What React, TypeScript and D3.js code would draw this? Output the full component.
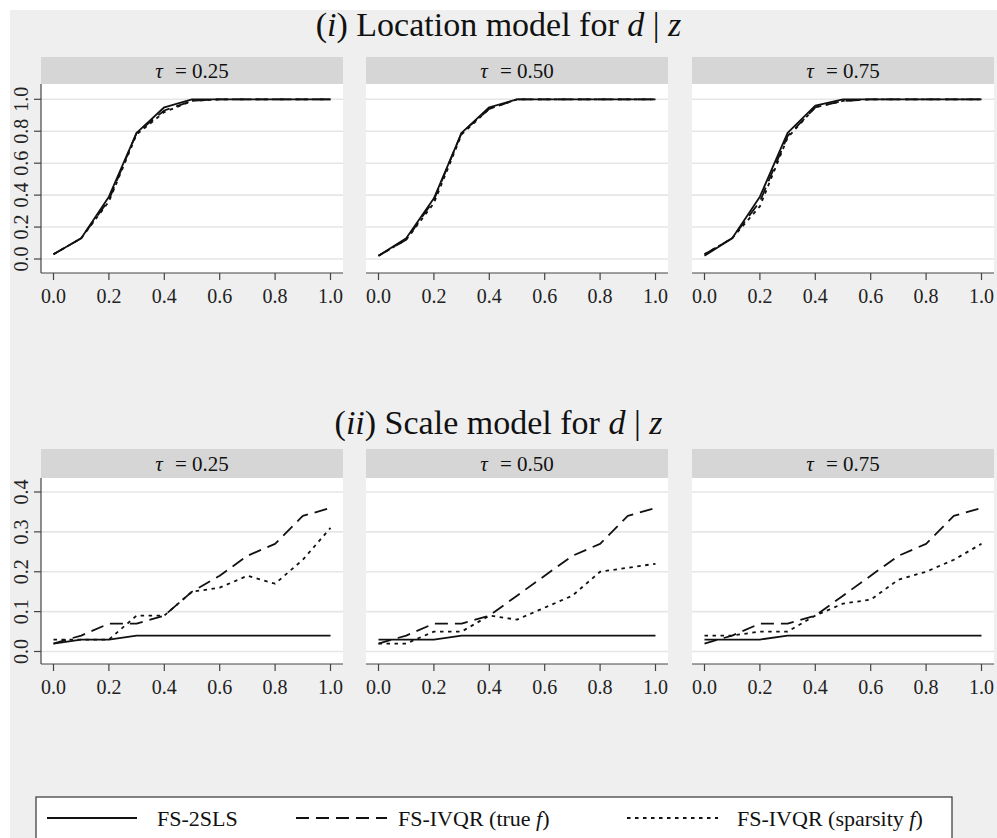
import React from "react";
import * as d3 from "d3";

// ---------- data ----------
const xGrid = [0, 0.1, 0.2, 0.3, 0.4, 0.5, 0.6, 0.7, 0.8, 0.9, 1.0];
const xTicks = [0, 0.2, 0.4, 0.6, 0.8, 1.0];
const tauLabels = ["0.25", "0.50", "0.75"];
const seriesNames = ["FS-2SLS", "FS-IVQR (true f)", "FS-IVQR (sparsity f)"];

const locYTicks = [0, 0.2, 0.4, 0.6, 0.8, 1.0];
const scaleYTicks = [0, 0.1, 0.2, 0.3, 0.4];

// Location model
const loc25_2sls = [0.03, 0.13, 0.39, 0.79, 0.95, 1.0, 1.0, 1.0, 1.0, 1.0, 1.0];
const loc25_true = [0.03, 0.13, 0.37, 0.79, 0.93, 0.99, 1.0, 1.0, 1.0, 1.0, 1.0];
const loc25_sp = [0.03, 0.13, 0.36, 0.78, 0.92, 0.99, 1.0, 1.0, 1.0, 1.0, 1.0];
const loc50_2sls = [0.02, 0.13, 0.38, 0.79, 0.95, 1.0, 1.0, 1.0, 1.0, 1.0, 1.0];
const loc50_true = [0.02, 0.12, 0.37, 0.79, 0.94, 1.0, 1.0, 1.0, 1.0, 1.0, 1.0];
const loc50_sp = [0.02, 0.12, 0.35, 0.78, 0.94, 1.0, 1.0, 1.0, 1.0, 1.0, 1.0];
const loc75_2sls = [0.02, 0.13, 0.39, 0.79, 0.96, 1.0, 1.0, 1.0, 1.0, 1.0, 1.0];
const loc75_true = [0.03, 0.13, 0.36, 0.77, 0.95, 0.99, 1.0, 1.0, 1.0, 1.0, 1.0];
const loc75_sp = [0.03, 0.13, 0.33, 0.76, 0.95, 0.99, 1.0, 1.0, 1.0, 1.0, 1.0];

// Scale model
const sc25_2sls = [0.02, 0.03, 0.03, 0.04, 0.04, 0.04, 0.04, 0.04, 0.04, 0.04, 0.04];
const sc25_true = [0.02, 0.04, 0.07, 0.07, 0.09, 0.15, 0.19, 0.24, 0.27, 0.34, 0.36];
const sc25_sp = [0.03, 0.03, 0.03, 0.09, 0.09, 0.15, 0.16, 0.19, 0.17, 0.23, 0.31];
const sc50_2sls = [0.03, 0.03, 0.03, 0.04, 0.04, 0.04, 0.04, 0.04, 0.04, 0.04, 0.04];
const sc50_true = [0.02, 0.04, 0.07, 0.07, 0.09, 0.14, 0.19, 0.24, 0.27, 0.34, 0.36];
const sc50_sp = [0.02, 0.02, 0.05, 0.05, 0.09, 0.08, 0.11, 0.14, 0.2, 0.21, 0.22];
const sc75_2sls = [0.03, 0.03, 0.03, 0.04, 0.04, 0.04, 0.04, 0.04, 0.04, 0.04, 0.04];
const sc75_true = [0.02, 0.04, 0.07, 0.07, 0.09, 0.14, 0.19, 0.24, 0.27, 0.34, 0.36];
const sc75_sp = [0.04, 0.04, 0.05, 0.05, 0.09, 0.12, 0.13, 0.18, 0.2, 0.23, 0.27];

const locPanels = [
  [loc25_2sls, loc25_true, loc25_sp],
  [loc50_2sls, loc50_true, loc50_sp],
  [loc75_2sls, loc75_true, loc75_sp],
];
const scalePanels = [
  [sc25_2sls, sc25_true, sc25_sp],
  [sc50_2sls, sc50_true, sc50_sp],
  [sc75_2sls, sc75_true, sc75_sp],
];

// ---------- style ----------
const FONT = "'Liberation Serif', 'Times New Roman', Times, serif";
const BG = "#efefef";
const STRIP = "#d6d6d6";
const GRID = "#e6e6e6";
const AXIS = "#444";
const dashes = [null, "13,7", "3.5,4.5"];
const widths = [1.8, 1.8, 1.8];

const W = 997;
const H = 838;
const panelLefts = [41, 366, 692];
const panelW = 302;

type RowCfg = {
  titleY: number;
  stripTop: number;
  plotTop: number;
  plotBottom: number;
  y0: number;
  y1: number;
  yMax: number;
  yTicks: number[];
  data: number[][][];
  title: React.ReactNode;
};

function Row({ cfg }: { cfg: RowCfg }) {
  const y = d3.scaleLinear().domain([0, cfg.yMax]).range([cfg.y0, cfg.y1]);
  const fmt = d3.format(".1f");
  return (
    <g>
      <text x={W / 2} y={cfg.titleY} textAnchor="middle" fontFamily={FONT} fontSize={34} fill="#111">
        {cfg.title}
      </text>
      {panelLefts.map((L, p) => {
        const x = d3.scaleLinear().domain([0, 1]).range([L + 12.5, L + panelW - 12.5]);
        const line = d3
          .line<number>()
          .x((_, i) => x(xGrid[i]))
          .y((v) => y(v));
        return (
          <g key={p}>
            <rect x={L} y={cfg.stripTop} width={panelW} height={cfg.plotTop - cfg.stripTop} fill={STRIP} />
            <text
              x={L + panelW / 2}
              y={cfg.stripTop + (cfg.plotTop - cfg.stripTop) / 2 + 7}
              textAnchor="middle"
              fontFamily={FONT}
              fontSize={21}
              fill="#111"
            >
              <tspan fontStyle="italic">τ</tspan>
              <tspan dx={7}> = {tauLabels[p]}</tspan>
            </text>
            <rect x={L} y={cfg.plotTop} width={panelW} height={cfg.plotBottom - cfg.plotTop} fill="#fff" />
            {cfg.yTicks.map((t) => (
              <line key={t} x1={L} x2={L + panelW} y1={y(t)} y2={y(t)} stroke={GRID} strokeWidth={1.6} />
            ))}
            {cfg.data[p].map((s, k) => (
              <path
                key={k}
                d={line(s) || ""}
                fill="none"
                stroke="#111"
                strokeWidth={widths[k]}
                strokeDasharray={dashes[k] || undefined}
                strokeLinejoin="round"
              />
            ))}
            <line x1={L} x2={L + panelW} y1={cfg.plotBottom} y2={cfg.plotBottom} stroke={AXIS} strokeWidth={1.2} />
            {xTicks.map((t) => (
              <g key={t}>
                <line x1={x(t)} x2={x(t)} y1={cfg.plotBottom} y2={cfg.plotBottom + 7} stroke={AXIS} strokeWidth={1.2} />
                <text x={x(t)} y={cfg.plotBottom + 30} textAnchor="middle" fontFamily={FONT} fontSize={20} fill="#222">
                  {fmt(t)}
                </text>
              </g>
            ))}
            {p === 0 && (
              <g>
                <line x1={L} x2={L} y1={cfg.plotTop} y2={cfg.plotBottom} stroke={AXIS} strokeWidth={1.2} />
                {cfg.yTicks.map((t) => (
                  <g key={t}>
                    <line x1={L - 7} x2={L} y1={y(t)} y2={y(t)} stroke={AXIS} strokeWidth={1.2} />
                    <text
                      transform={`translate(${L - 13},${y(t)}) rotate(-90)`}
                      textAnchor="middle"
                      fontFamily={FONT}
                      fontSize={20}
                      fill="#222"
                    >
                      {fmt(t)}
                    </text>
                  </g>
                ))}
              </g>
            )}
          </g>
        );
      })}
    </g>
  );
}

export default function App() {
  const top: RowCfg = {
    titleY: 36,
    stripTop: 57,
    plotTop: 84,
    plotBottom: 273,
    y0: 259,
    y1: 99.3,
    yMax: 1,
    yTicks: locYTicks,
    data: locPanels,
    title: (
      <>
        <tspan>(</tspan>
        <tspan fontStyle="italic">i</tspan>
        <tspan>) Location model for </tspan>
        <tspan fontStyle="italic">d</tspan>
        <tspan> | </tspan>
        <tspan fontStyle="italic">z</tspan>
      </>
    ),
  };
  const bottom: RowCfg = {
    titleY: 434,
    stripTop: 449,
    plotTop: 478,
    plotBottom: 664,
    y0: 651.5,
    y1: 492,
    yMax: 0.4,
    yTicks: scaleYTicks,
    data: scalePanels,
    title: (
      <>
        <tspan>(</tspan>
        <tspan fontStyle="italic">ii</tspan>
        <tspan>) Scale model for </tspan>
        <tspan fontStyle="italic">d</tspan>
        <tspan> | </tspan>
        <tspan fontStyle="italic">z</tspan>
      </>
    ),
  };

  const legendItems = [
    { x1: 47, x2: 137, tx: 157 },
    { x1: 296, x2: 387, tx: 398 },
    { x1: 627, x2: 718, tx: 737 },
  ];

  return (
    <svg
      width={W}
      height={H}
      style={{ position: "absolute", left: 0, top: 0, display: "block" }}
      xmlns="http://www.w3.org/2000/svg"
    >
      <rect x={0} y={0} width={W} height={H} fill="#fff" />
      <rect x={10} y={10} width={W - 10} height={H - 10} fill={BG} />
      <Row cfg={top} />
      <Row cfg={bottom} />
      <rect x={36} y={797} width={916} height={60} fill="#fff" stroke="#333" strokeWidth={1.2} />
      {legendItems.map((it, k) => {
        const name = seriesNames[k];
        const m = name.match(/^(.*?)( f\))$/);
        return (
          <g key={k}>
            <line
              x1={it.x1}
              x2={it.x2}
              y1={818}
              y2={818}
              stroke="#111"
              strokeWidth={1.8}
              strokeDasharray={dashes[k] || undefined}
            />
            <text x={it.tx} y={826} fontFamily={FONT} fontSize={22} fill="#111">
              {m ? (
                <>
                  <tspan>{m[1]} </tspan>
                  <tspan fontStyle="italic">f</tspan>
                  <tspan>)</tspan>
                </>
              ) : (
                name
              )}
            </text>
          </g>
        );
      })}
    </svg>
  );
}
